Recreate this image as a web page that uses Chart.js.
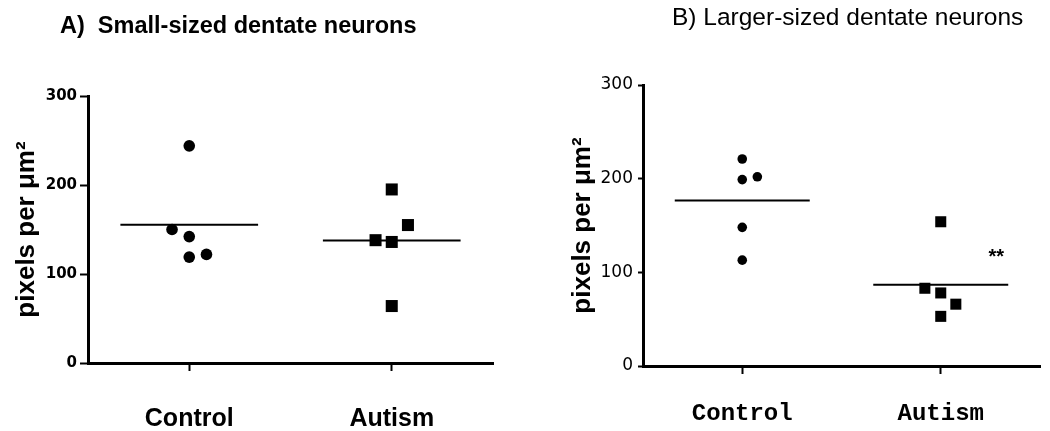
<!DOCTYPE html>
<html>
<head>
<meta charset="utf-8">
<script src="https://cdn.jsdelivr.net/npm/chart.js@4.4.1/dist/chart.umd.min.js"></script>
<style>
  body { margin: 0; background: #fff; }
  .panel { position: absolute; top: 0; width: 525px; height: 431px; }
  #panelA { left: 0; }
  #panelB { left: 525px; }
</style>
</head>
<body>
<div class="panel" id="panelA"><canvas id="chartA"></canvas></div>
<div class="panel" id="panelB"><canvas id="chartB"></canvas></div>
<script>
// ===== Dados =====
const groups = ['Control', 'Autism'];
const yTicks = [0, 100, 200, 300];

// A) small-sized neurons
const smallControl = [244, 150, 142, 119, 122];
const smallControlJitter = [0, -0.085, 0, 0, 0.085];
const smallAutism = [195, 155, 138, 136, 64];
const smallAutismJitter = [0, 0.08, -0.08, 0, 0];

// B) larger-sized neurons
const largeControl = [221, 199, 202, 148, 113];
const largeControlJitter = [0, 0, 0.076, 0, 0];
const largeAutism = [154, 83, 78, 66, 53];
const largeAutismJitter = [0, -0.08, 0, 0.076, 0];

// ===== Texto extra (títulos, asteriscos) =====
const panelText = {
  id: 'panelText',
  afterDraw(chart, args, opts) {
    const ctx = chart.ctx;
    ctx.save();
    ctx.fillStyle = '#000';
    ctx.textBaseline = 'middle';
    (opts.items || []).forEach(item => {
      ctx.font = item.font;
      ctx.textAlign = item.align || 'left';
      let x = item.x, y = item.y;
      if (item.dataX !== undefined) {
        x = chart.scales.x.getPixelForValue(item.dataX);
        y = chart.scales.y.getPixelForValue(item.dataY);
      }
      ctx.fillText(item.text, x, y);
    });
    ctx.restore();
  }
};

function points(values, jitter, center) {
  return values.map((v, i) => ({ x: center + jitter[i], y: v }));
}

function meanLine(values, center) {
  const m = values.reduce((a, b) => a + b, 0) / values.length;
  return [{ x: center - 0.34, y: m }, { x: center + 0.34, y: m }];
}

function makeChart(id, p) {
  return new Chart(document.getElementById(id).getContext('2d'), {
    type: 'scatter',
    data: {
      datasets: [
        { data: points(p.control, p.controlJitter, 0), pointStyle: 'circle', pointRadius: p.circleR,
          backgroundColor: '#000', borderWidth: 0 },
        { data: points(p.autism, p.autismJitter, 1), pointStyle: 'rect', pointRadius: p.squareR,
          backgroundColor: '#000', borderWidth: 0 },
        { type: 'line', data: meanLine(p.control, 0), borderColor: '#000', borderWidth: 2, pointRadius: 0 },
        { type: 'line', data: meanLine(p.autism, 1), borderColor: '#000', borderWidth: 2, pointRadius: 0 }
      ]
    },
    options: {
      responsive: true,
      maintainAspectRatio: false,
      animation: false,
      layout: { padding: p.padding },
      plugins: {
        legend: { display: false },
        tooltip: { enabled: false },
        panelText: { items: p.texts }
      },
      scales: {
        x: {
          type: 'linear', min: -0.5, max: 1.5,
          afterBuildTicks: s => { s.ticks = groups.map((g, i) => ({ value: i })); },
          afterFit: s => { s.height = p.xHeight; },
          ticks: { callback: v => groups[v], font: p.xFont, color: '#000', padding: p.xPad, maxRotation: 0 },
          grid: { drawOnChartArea: false, tickLength: 8, tickColor: '#000', tickWidth: 2 },
          border: { color: '#000', width: 3 }
        },
        y: {
          min: 0, max: 300,
          afterBuildTicks: s => { s.ticks = yTicks.map(v => ({ value: v })); },
          afterFit: s => { s.width = p.yWidth; },
          ticks: { font: p.yFont, color: '#000', padding: p.yPad },
          grid: { drawOnChartArea: false, tickLength: p.yTick, tickColor: '#000', tickWidth: 2 },
          border: { color: '#000', width: 3 },
          title: { display: true, text: 'pixels per μm²', color: '#000', padding: 0,
                   font: { family: 'Liberation Sans', weight: 'bold', size: 26 } }
        }
      }
    },
    plugins: [panelText]
  });
}

makeChart('chartA', {
  control: smallControl, controlJitter: smallControlJitter,
  autism: smallAutism, autismJitter: smallAutismJitter,
  circleR: 5.8, squareR: 8.5,
  padding: { left: 11, top: 96, right: 32, bottom: 0 },
  xHeight: 68, xPad: 33, yWidth: 77, yPad: 3, yTick: 8,
  xFont: { family: 'Liberation Sans', weight: 'bold', size: 25 },
  yFont: { family: 'DejaVu Sans', weight: 'bold', size: 15 },
  texts: [
    { text: 'A)  Small-sized dentate neurons', x: 60, y: 27, font: 'bold 23.5px "Liberation Sans"' }
  ]
});

makeChart('chartB', {
  control: largeControl, controlJitter: largeControlJitter,
  autism: largeAutism, autismJitter: largeAutismJitter,
  circleR: 4.8, squareR: 7.8,
  padding: { left: 42, top: 85, right: 10, bottom: 0 },
  xHeight: 65, xPad: 26, yWidth: 76, yPad: 5, yTick: 5,
  xFont: { family: 'Liberation Mono', weight: 'bold', size: 24 },
  yFont: { family: 'DejaVu Sans', size: 17 },
  texts: [
    { text: 'B) Larger-sized dentate neurons', x: 147, y: 18, font: '24.5px "Liberation Sans"' },
    { text: '**', dataX: 1.28, dataY: 116, align: 'center', font: 'bold 20px "Liberation Sans"' }
  ]
});
</script>
</body>
</html>
